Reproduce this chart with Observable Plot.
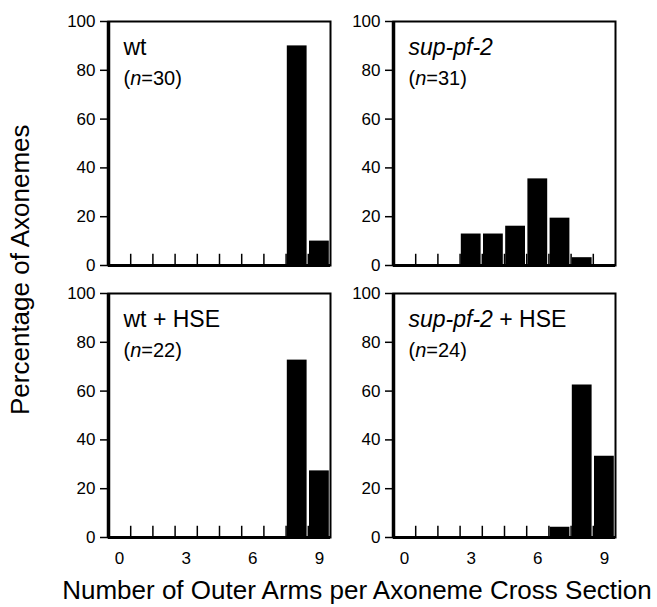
<!DOCTYPE html>
<html>
<head>
<meta charset="utf-8">
<script src="https://cdn.jsdelivr.net/npm/d3@7"></script>
<script src="https://cdn.jsdelivr.net/npm/@observablehq/plot@0.6"></script>
<style>
  html, body { margin: 0; padding: 0; background: #fff; }
  #chart { position: relative; width: 657px; height: 607px; overflow: hidden; font-family: "Liberation Sans", Arial, Helvetica, sans-serif; color: #000; }
  .panel { position: absolute; }
  .ylabel { position: absolute; left: 33px; top: 270px; transform: rotate(-90deg); transform-origin: 0 0; white-space: nowrap; font-size: 26px; line-height: 1; }
  .xlabel { position: absolute; left: 0; width: 714px; top: 577px; text-align: center; white-space: nowrap; font-size: 26px; line-height: 1; }
</style>
</head>
<body>
<div id="chart"></div>
<script>
// ---- data ----
const bins = [0, 1, 2, 3, 4, 5, 6, 7, 8, 9];
const wt = [0, 0, 0, 0, 0, 0, 0, 0, 90, 10];
const supPf2 = [0, 0, 0, 12.9, 12.9, 16.1, 35.5, 19.4, 3.2, 0];
const wtHSE = [0, 0, 0, 0, 0, 0, 0, 0, 72.7, 27.3];
const supPf2HSE = [0, 0, 0, 0, 0, 0, 0, 4.2, 62.5, 33.3];
const titles = ["wt", "sup-pf-2", "wt + HSE", "sup-pf-2 + HSE"];
const nCounts = [30, 31, 22, 24];
const yTicks = [0, 20, 40, 60, 80, 100];
const xTickLabels = [0, 3, 6, 9];
const yTitle = "Percentage of Axonemes";
const xTitle = "Number of Outer Arms per Axoneme Cross Section";

const series = [wt, supPf2, wtHSE, supPf2HSE];
const boundaries = bins.slice(1);

const chart = document.getElementById("chart");
const frameLefts = [108, 393];
const frameTops = [21, 293];
const FW = 222, FH = 244;
const ML = 50, MR = 8, MT = 12;

function italicize(svg) {
  d3.select(svg).selectAll("g[aria-label=text] text").each(function () {
    const s = this.textContent;
    if (!/sup-pf-2|\bn\b/.test(s)) return;
    const parts = s.split(/(sup-pf-2|\bn\b)/).filter(p => p !== "");
    const el = d3.select(this);
    el.text(null);
    parts.forEach(p => {
      const t = el.append("tspan").text(p);
      if (p === "sup-pf-2" || p === "n") t.attr("font-style", "italic");
    });
  });
}

series.forEach((vals, i) => {
  const c = i % 2, r = Math.floor(i / 2);
  const MB = r === 1 ? 36 : 6;
  const data = bins.map((b, k) => ({bin: b, value: vals[k]})).filter(d => d.value > 0);
  const marks = [
    Plot.ruleX(boundaries, {x: d => d, y1: 0, y2: 4.6, stroke: "#000", strokeWidth: 1.5}),
    Plot.rectY(data, {x1: d => d.bin, x2: d => d.bin + 1, y: "value", fill: "#000", insetLeft: 1.2, insetRight: 1.2}),
    Plot.frame({stroke: "#000", strokeWidth: 2}),
    Plot.ruleX([0], {stroke: "#000", strokeWidth: 3.5}),
    Plot.ruleY([0], {stroke: "#000", strokeWidth: 3}),
    Plot.axisY({ticks: yTicks, tickSize: 8, tickPadding: 5, label: null, fontSize: 17, strokeWidth: 1.5}),
    Plot.text([titles[i]], {frameAnchor: "top-left", dx: 15, dy: 33, textAnchor: "start", lineAnchor: "bottom", fontSize: 23}),
    Plot.text([`(n=${nCounts[i]})`], {frameAnchor: "top-left", dx: 15, dy: 63, textAnchor: "start", lineAnchor: "bottom", fontSize: 20})
  ];
  if (r === 1) {
    marks.push(Plot.axisX({ticks: xTickLabels.map(v => v + 0.5), tickFormat: d => String(d - 0.5), tickSize: 0, tickPadding: 14, label: null, fontSize: 17}));
  }
  const plot = Plot.plot({
    width: FW + ML + MR,
    height: FH + MT + MB,
    marginLeft: ML, marginRight: MR, marginTop: MT, marginBottom: MB,
    x: {domain: [0, 10], axis: null},
    y: {domain: [0, 100], axis: null},
    style: {fontFamily: "'Liberation Sans', Arial, Helvetica, sans-serif", fontSize: "17px", color: "#000", background: "transparent", overflow: "visible"},
    marks
  });
  italicize(plot);
  const wrap = document.createElement("div");
  wrap.className = "panel";
  wrap.style.left = (frameLefts[c] - ML) + "px";
  wrap.style.top = (frameTops[r] - MT) + "px";
  wrap.appendChild(plot);
  chart.appendChild(wrap);
});

const yl = document.createElement("div");
yl.className = "ylabel";
yl.textContent = yTitle;
chart.appendChild(yl);
const w = yl.getBoundingClientRect().height;
yl.style.top = (270 + w / 2) + "px";
yl.style.left = "7px";

const xl = document.createElement("div");
xl.className = "xlabel";
xl.textContent = xTitle;
chart.appendChild(xl);
</script>
</body>
</html>
